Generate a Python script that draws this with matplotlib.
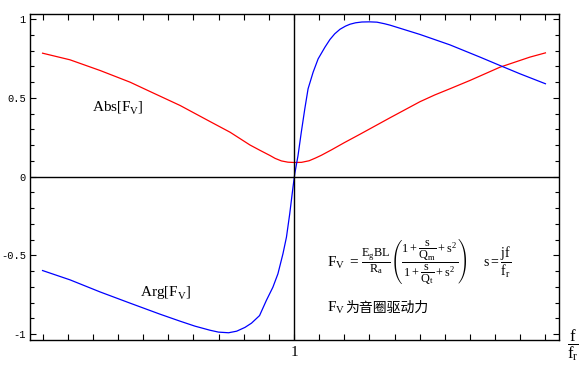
import numpy as np
import matplotlib
matplotlib.use('Agg')
import matplotlib.pyplot as plt
from matplotlib.ticker import MultipleLocator, FixedLocator, FixedFormatter

plt.rcParams['mathtext.fontset'] = 'custom'
plt.rcParams['mathtext.rm'] = 'Liberation Serif'
plt.rcParams['mathtext.it'] = 'Liberation Serif'
plt.rcParams['mathtext.default'] = 'rm'

# x = log10(f/fr)
abs_x = [-1.0, -0.891, -0.771, -0.652, -0.573, -0.453, -0.334, -0.254, -0.175,
         -0.135, -0.095, -0.075, -0.050, -0.024, 0.0, 0.030, 0.060, 0.085, 0.109,
         0.150, 0.199, 0.262, 0.382, 0.501, 0.560, 0.620, 0.700, 0.819, 0.938, 1.0]
abs_y = [0.783, 0.741, 0.673, 0.599, 0.540, 0.451, 0.349, 0.281, 0.200,
         0.166, 0.133, 0.115, 0.099, 0.091, 0.089, 0.090, 0.100, 0.117, 0.135,
         0.170, 0.214, 0.268, 0.373, 0.475, 0.518, 0.557, 0.610, 0.694, 0.758, 0.785]

arg_x = [-1.0, -0.891, -0.771, -0.652, -0.533, -0.454, -0.394, -0.334, -0.300,
         -0.260, -0.228, -0.195, -0.169, -0.137, -0.110, -0.084, -0.064, -0.044,
         -0.030, -0.017, -0.004, 0.003, 0.016, 0.029, 0.043, 0.056, 0.076, 0.096,
         0.123, 0.143, 0.162, 0.183, 0.205, 0.223, 0.245, 0.270, 0.300, 0.330,
         0.360, 0.382, 0.501, 0.620, 0.740, 0.819, 0.899, 1.0]
arg_y = [-0.597, -0.656, -0.733, -0.804, -0.874, -0.918, -0.950, -0.976, -0.988,
         -0.992, -0.982, -0.958, -0.931, -0.883, -0.787, -0.703, -0.618, -0.491,
         -0.385, -0.237, -0.068, 0.017, 0.133, 0.281, 0.430, 0.557, 0.662, 0.747,
         0.821, 0.870, 0.906, 0.935, 0.955, 0.967, 0.976, 0.981, 0.982, 0.980,
         0.970, 0.961, 0.902, 0.836, 0.758, 0.705, 0.652, 0.589]

y_ticks = [-1, -0.5, 0, 0.5, 1]
y_labels = ['-1', '-0.5', '0', '0.5', '1']

fig = plt.figure(figsize=(5.85, 3.72), dpi=100)
ax = fig.add_axes([30/585, 1-340/372, 529/585, 326.5/372])

ax.plot(abs_x, abs_y, color='red', lw=0.9)
ax.plot(arg_x, arg_y, color='blue', lw=0.9)
ax.axhline(0, color='black', lw=1)
ax.axvline(0, color='black', lw=1)

ax.set_xlim(-1.05, 1.054)
ax.set_ylim(-1.038, 1.035)

ax.xaxis.set_major_locator(MultipleLocator(0.1))
ax.xaxis.set_major_formatter(plt.FuncFormatter(lambda v, p: '1' if abs(v) < 1e-9 else ''))
ax.yaxis.set_major_locator(FixedLocator(y_ticks))
ax.yaxis.set_major_formatter(FixedFormatter(y_labels))
ax.yaxis.set_minor_locator(MultipleLocator(0.1))

ax.tick_params(direction='in', top=True, right=True, width=0.8)
ax.tick_params(axis='x', length=4, pad=4, labelsize=11, labelfontfamily='Liberation Serif')
ax.tick_params(axis='y', which='major', length=4, pad=3, labelsize=7.5, labelfontfamily='Liberation Mono')
ax.tick_params(axis='y', which='minor', direction='in', right=True, length=3, width=0.8)
for s in ax.spines.values():
    s.set_linewidth(1)

ax.text(-0.804, 0.438, r'$\mathrm{Abs}\left[\mathrm{F_V}\right]$', fontsize=11, va='center', ha='left')
ax.text(-0.612, -0.737, r'$\mathrm{Arg}\left[\mathrm{F_V}\right]$', fontsize=11, va='center', ha='left')

# formula: F_V = ... , then s = jf/fr
f0 = ax.text(0.131, -0.546, r'$\mathrm{F_V}\;=$', fontsize=11, va='center', ha='left')
ax.annotate(r'$\dfrac{\mathrm{E_g BL}}{\mathrm{R_a}}\left(\dfrac{1+\dfrac{s}{Q_m}+s^2}{1+\dfrac{s}{Q_t}+s^2}\right)$',
            xy=(1, 0.5), xycoords=f0, xytext=(1.5, 0), textcoords='offset points',
            fontsize=8.8, va='center', ha='left')
ax.text(0.751, -0.546, r'$s=\dfrac{jf}{f_r}$', fontsize=10, va='center', ha='left')

t1 = ax.text(0.131, -0.832, r'$\mathrm{F_V}$', fontsize=11, va='center', ha='left')
ax.annotate('为音圈驱动力', xy=(1, 0.5), xycoords=t1, va='center', ha='left',
            fontsize=10, family=['Noto Sans CJK SC', 'DejaVu Sans'])

fig.text(573/585, 1-345/372, r'$\dfrac{f}{f_r}$', fontsize=12, ha='center', va='center')

fig.savefig('out.png', dpi=100)
